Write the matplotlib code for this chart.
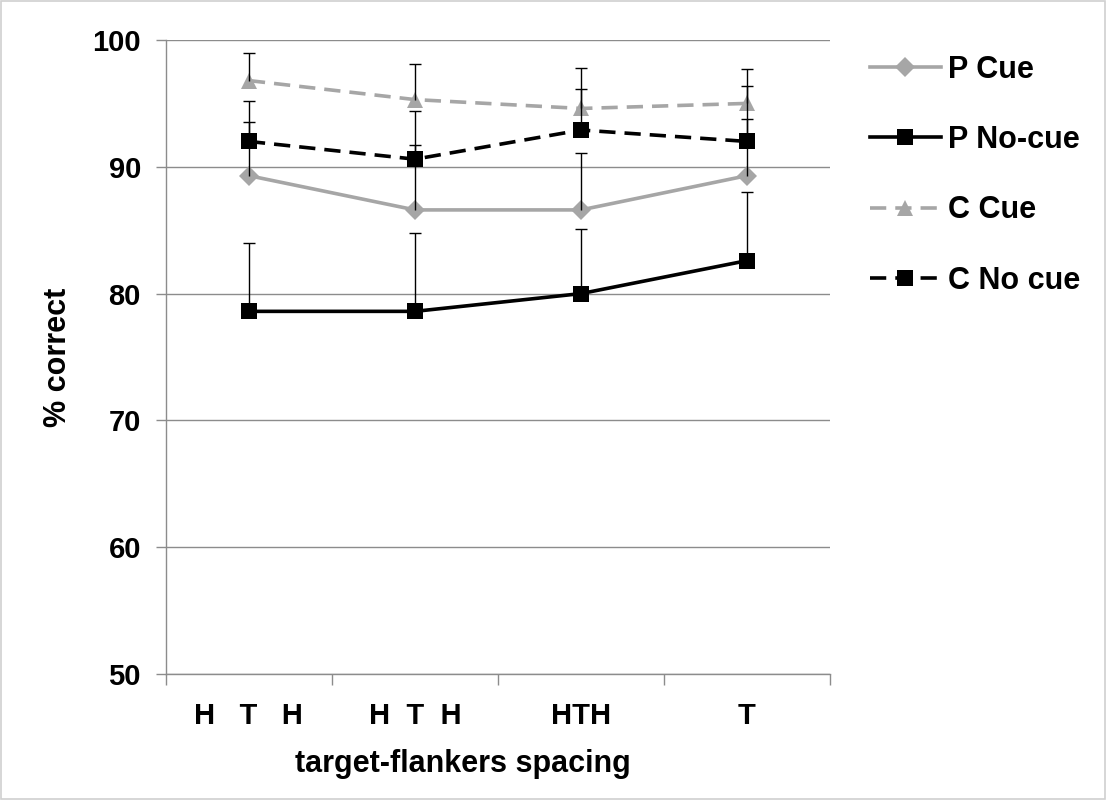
import matplotlib.pyplot as plt
from matplotlib.patches import Rectangle
from matplotlib.lines import Line2D
import numpy as np

plt.rcParams["font.family"] = ["Liberation Sans", "DejaVu Sans"]
plt.rcParams["font.weight"] = "bold"

# -------------------------------
# data
# -------------------------------
categories = ["H   T   H", "H  T  H", "HTH", "T"]
p_cue = [89.3, 86.6, 86.6, 89.3]
p_nocue = [78.6, 78.6, 80.0, 82.6]
c_cue = [96.8, 95.3, 94.6, 95.0]
c_nocue = [92.0, 90.6, 92.9, 92.0]

# upper error bars
p_cue_err = [4.2, 5.1, 4.5, 4.5]
p_nocue_err = [5.4, 6.2, 5.1, 5.4]
c_cue_err = [2.2, 2.8, 3.2, 2.7]
c_nocue_err = [3.2, 3.8, 3.2, 4.4]

GRAY = "#a6a6a6"
AXGRAY = "#8c8c8c"
FS = 21

fig = plt.figure(figsize=(11.06, 8.0), dpi=100)
ax = fig.add_axes([0.150, 0.1575, 0.6005, 0.7925])
fig.patches.append(Rectangle((0.001, 0.001), 0.998, 0.998, transform=fig.transFigure,
                             fill=False, edgecolor="#d0d0d0", lw=1.2))

x = np.arange(1, len(categories) + 1)

DASH = (0, (4.5, 2.5))
series = [
    ("P Cue", p_cue, p_cue_err, GRAY, "-", "D", 10),
    ("P No-cue", p_nocue, p_nocue_err, "black", "-", "s", 11),
    ("C Cue", c_cue, c_cue_err, GRAY, DASH, "^", 11),
    ("C No cue", c_nocue, c_nocue_err, "black", DASH, "s", 11),
]

handles = []
for name, vals, err, color, ls, mk, ms in series:
    ax.plot(x, vals, color=color, linestyle=ls, lw=2.6, marker=mk,
            markersize=ms, markeredgewidth=0, zorder=3)
    handles.append(Line2D([], [], color=color, linestyle=ls, lw=2.6, marker=mk,
                          markersize=ms, markeredgewidth=0, label=name))

# error bars (upper only), drawn over the lines like the original
for name, vals, err, color, ls, mk, ms in series:
    top = np.array(vals) + np.array(err)
    ax.vlines(x, vals, top, color="black", lw=1, zorder=4)
    ax.plot(x, top, linestyle="none", marker="_", markersize=9,
            markeredgewidth=1, color="black", zorder=4)

ax.set_xlim(0.5, 4.5)
ax.set_ylim(50, 100)
ax.set_yticks(range(50, 101, 10))
ax.grid(axis="y", color=AXGRAY, lw=1)
ax.set_axisbelow(True)

ax.set_xticks(x)
ax.set_xticklabels(categories, fontsize=FS, fontweight="bold")
ax.set_xticks(np.arange(0.5, 4.6, 1), minor=True)
ax.tick_params(axis="x", which="major", length=0, pad=20)
ax.tick_params(axis="x", which="minor", length=8, color=AXGRAY, width=1, direction="out")
ax.tick_params(axis="y", length=7, color=AXGRAY, width=1, pad=11, labelsize=FS)
for lab in ax.get_yticklabels():
    lab.set_fontweight("bold")

for side in ["top", "right"]:
    ax.spines[side].set_visible(False)
for side in ["left", "bottom"]:
    ax.spines[side].set_color(AXGRAY)
    ax.spines[side].set_linewidth(1)

ax.set_ylabel("% correct", fontsize=22, fontweight="bold")
ax.yaxis.set_label_coords(-0.14, 0.5)
ax.set_xlabel("target-flankers spacing", fontsize=22, fontweight="bold")
ax.xaxis.set_label_coords(0.447, -0.118)

fig.legend(handles=handles, loc="upper left", bbox_to_anchor=(0.762, 0.966),
           frameon=False, handlelength=2.3, handletextpad=0.25,
           labelspacing=1.32, prop={"weight": "bold", "size": 22})

plt.savefig("out.png", dpi=100)
